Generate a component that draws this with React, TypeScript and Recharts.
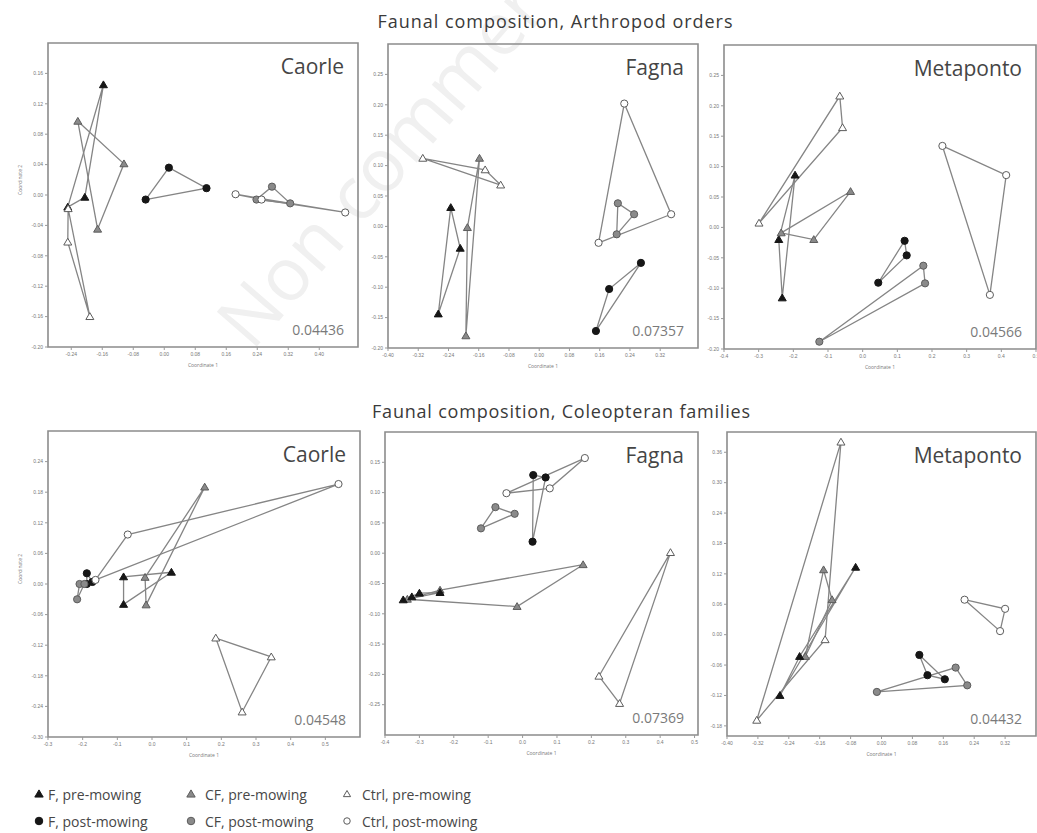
import React from "react";
import { ReferenceArea, Scatter, ScatterChart, XAxis, YAxis } from "recharts";

type Pt = { x: number; y: number };
type Kind = "fPre" | "cfPre" | "ctrlPre" | "fPost" | "cfPost" | "ctrlPost";

// ---- Arthropod orders, Caorle
const arthCaorleFPre = [{ x: -0.157, y: 0.145 }, { x: -0.205, y: -0.003 }, { x: -0.249, y: -0.016 }];
const arthCaorleCFPre = [{ x: -0.223, y: 0.097 }, { x: -0.104, y: 0.041 }, { x: -0.172, y: -0.045 }];
const arthCaorleCtrlPre = [{ x: -0.249, y: -0.062 }, { x: -0.192, y: -0.16 }, { x: -0.248, y: -0.018 }];
const arthCaorleFPost = [{ x: -0.048, y: -0.006 }, { x: 0.012, y: 0.036 }, { x: 0.109, y: 0.009 }];
const arthCaorleCFPost = [{ x: 0.278, y: 0.011 }, { x: 0.238, y: -0.006 }, { x: 0.325, y: -0.011 }];
const arthCaorleCtrlPost = [{ x: 0.184, y: 0.001 }, { x: 0.251, y: -0.006 }, { x: 0.467, y: -0.023 }];

// ---- Arthropod orders, Fagna
const arthFagnaCtrlPre = [{ x: -0.308, y: 0.112 }, { x: -0.143, y: 0.093 }, { x: -0.102, y: 0.068 }];
const arthFagnaCFPre = [{ x: -0.158, y: 0.112 }, { x: -0.19, y: -0.002 }, { x: -0.194, y: -0.18 }];
const arthFagnaFPre = [{ x: -0.234, y: 0.031 }, { x: -0.209, y: -0.036 }, { x: -0.267, y: -0.144 }];
const arthFagnaCtrlPost = [{ x: 0.225, y: 0.202 }, { x: 0.349, y: 0.02 }, { x: 0.157, y: -0.027 }];
const arthFagnaCFPost = [{ x: 0.208, y: 0.038 }, { x: 0.251, y: 0.02 }, { x: 0.205, y: -0.013 }];
const arthFagnaFPost = [{ x: 0.269, y: -0.06 }, { x: 0.185, y: -0.103 }, { x: 0.15, y: -0.172 }];

// ---- Arthropod orders, Metaponto
const arthMetaCtrlPre = [{ x: -0.066, y: 0.216 }, { x: -0.058, y: 0.164 }, { x: -0.299, y: 0.007 }];
const arthMetaFPre = [{ x: -0.195, y: 0.086 }, { x: -0.242, y: -0.02 }, { x: -0.232, y: -0.116 }];
const arthMetaCFPre = [{ x: -0.035, y: 0.059 }, { x: -0.235, y: -0.009 }, { x: -0.141, y: -0.02 }];
const arthMetaCtrlPost = [{ x: 0.23, y: 0.134 }, { x: 0.414, y: 0.086 }, { x: 0.367, y: -0.111 }];
const arthMetaFPost = [{ x: 0.121, y: -0.022 }, { x: 0.127, y: -0.046 }, { x: 0.045, y: -0.091 }];
const arthMetaCFPost = [{ x: 0.175, y: -0.063 }, { x: 0.18, y: -0.092 }, { x: -0.125, y: -0.188 }];

// ---- Coleopteran families, Caorle
const coleCaorleCtrlPost = [{ x: 0.538, y: 0.196 }, { x: -0.07, y: 0.097 }, { x: -0.163, y: 0.008 }];
const coleCaorleCFPre = [{ x: 0.152, y: 0.19 }, { x: -0.02, y: 0.013 }, { x: -0.017, y: -0.041 }];
const coleCaorleFPre = [{ x: -0.082, y: 0.014 }, { x: 0.056, y: 0.023 }, { x: -0.082, y: -0.04 }];
const coleCaorleCtrlPre = [{ x: 0.184, y: -0.106 }, { x: 0.344, y: -0.143 }, { x: 0.26, y: -0.251 }];
const coleCaorleFPost = [{ x: -0.188, y: 0.021 }, { x: -0.188, y: 0.0 }, { x: -0.172, y: 0.004 }];
const coleCaorleCFPost = [{ x: -0.209, y: 0.0 }, { x: -0.216, y: -0.03 }, { x: -0.195, y: 0.0 }];

// ---- Coleopteran families, Fagna
const coleFagnaCtrlPost = [{ x: 0.181, y: 0.157 }, { x: -0.047, y: 0.099 }, { x: 0.079, y: 0.107 }];
const coleFagnaFPost = [{ x: 0.031, y: 0.129 }, { x: 0.067, y: 0.125 }, { x: 0.029, y: 0.019 }];
const coleFagnaCFPost = [{ x: -0.079, y: 0.076 }, { x: -0.023, y: 0.065 }, { x: -0.121, y: 0.041 }];
const coleFagnaCFPre = [{ x: 0.176, y: -0.019 }, { x: -0.016, y: -0.088 }, { x: -0.335, y: -0.076 }, { x: -0.24, y: -0.061 }];
const coleFagnaFPre = [{ x: -0.347, y: -0.077 }, { x: -0.322, y: -0.072 }, { x: -0.3, y: -0.066 }, { x: -0.24, y: -0.065 }];
const coleFagnaCtrlPre = [{ x: 0.43, y: 0.001 }, { x: 0.222, y: -0.203 }, { x: 0.282, y: -0.248 }];

// ---- Coleopteran families, Metaponto
const coleMetaCtrlPre = [{ x: -0.105, y: 0.38 }, { x: -0.146, y: -0.01 }, { x: -0.323, y: -0.169 }];
const coleMetaCFPre = [{ x: -0.15, y: 0.128 }, { x: -0.128, y: 0.069 }, { x: -0.197, y: -0.043 }];
const coleMetaFPre = [{ x: -0.067, y: 0.133 }, { x: -0.212, y: -0.043 }, { x: -0.263, y: -0.12 }];
const coleMetaCtrlPost = [{ x: 0.215, y: 0.069 }, { x: 0.32, y: 0.051 }, { x: 0.307, y: 0.007 }];
const coleMetaFPost = [{ x: 0.098, y: -0.04 }, { x: 0.119, y: -0.08 }, { x: 0.164, y: -0.088 }];
const coleMetaCFPost = [{ x: 0.192, y: -0.065 }, { x: 0.222, y: -0.1 }, { x: -0.012, y: -0.113 }];

// ---- tick labels
const ticksCaorleArthX = [-0.24, -0.16, -0.08, 0, 0.08, 0.16, 0.24, 0.32, 0.4];
const ticksCaorleArthY = [-0.2, -0.16, -0.12, -0.08, -0.04, 0, 0.04, 0.08, 0.12, 0.16];
const ticksFagnaArthX = [-0.4, -0.32, -0.24, -0.16, -0.08, 0, 0.08, 0.16, 0.24, 0.32];
const ticksFagnaArthY = [-0.2, -0.15, -0.1, -0.05, 0, 0.05, 0.1, 0.15, 0.2, 0.25];
const ticksMetaArthX = [-0.4, -0.3, -0.2, -0.1, 0, 0.1, 0.2, 0.3, 0.4, 0.5];
const ticksMetaArthY = [-0.2, -0.15, -0.1, -0.05, 0, 0.05, 0.1, 0.15, 0.2, 0.25];
const ticksCaorleColeX = [-0.3, -0.2, -0.1, 0, 0.1, 0.2, 0.3, 0.4, 0.5];
const ticksCaorleColeY = [-0.3, -0.24, -0.18, -0.12, -0.06, 0, 0.06, 0.12, 0.18, 0.24];
const ticksFagnaColeX = [-0.4, -0.3, -0.2, -0.1, 0, 0.1, 0.2, 0.3, 0.4, 0.5];
const ticksFagnaColeY = [-0.25, -0.2, -0.15, -0.1, -0.05, 0, 0.05, 0.1, 0.15];
const ticksMetaColeX = [-0.4, -0.32, -0.24, -0.16, -0.08, 0, 0.08, 0.16, 0.24, 0.32];
const ticksMetaColeY = [-0.18, -0.12, -0.06, 0, 0.06, 0.12, 0.18, 0.24, 0.3, 0.36];

const legendLabels: [Kind, string][] = [
  ["fPre", "F, pre-mowing"],
  ["fPost", "F, post-mowing"],
  ["cfPre", "CF, pre-mowing"],
  ["cfPost", "CF, post-mowing"],
  ["ctrlPre", "Ctrl, pre-mowing"],
  ["ctrlPost", "Ctrl, post-mowing"],
];

const FONT = "'Open Sans', 'DejaVu Sans', sans-serif";
const LINE = "#858585";

const MARKS: Record<Kind, { tri: boolean; fill: string; stroke: string }> = {
  fPre: { tri: true, fill: "#161616", stroke: "#161616" },
  cfPre: { tri: true, fill: "#8a8a8a", stroke: "#5c5c5c" },
  ctrlPre: { tri: true, fill: "#ffffff", stroke: "#5c5c5c" },
  fPost: { tri: false, fill: "#161616", stroke: "#161616" },
  cfPost: { tri: false, fill: "#8a8a8a", stroke: "#5c5c5c" },
  ctrlPost: { tri: false, fill: "#ffffff", stroke: "#5c5c5c" },
};

function Marker({ kind, cx, cy, s = 1 }: { kind: Kind; cx: number; cy: number; s?: number }) {
  const m = MARKS[kind];
  if (m.tri) {
    const h = 6.5 * s;
    const w = 4 * s;
    return (
      <path
        d={`M${cx},${cy - h * 0.6} L${cx + w},${cy + h * 0.45} L${cx - w},${cy + h * 0.45} Z`}
        fill={m.fill}
        stroke={m.stroke}
        strokeWidth={1}
      />
    );
  }
  return <circle cx={cx} cy={cy} r={3.6 * s} fill={m.fill} stroke={m.stroke} strokeWidth={1} />;
}

function hull(pts: Pt[]): Pt[] {
  const p = [...pts].sort((a, b) => a.x - b.x || a.y - b.y);
  if (p.length < 3) return [...p, p[0]];
  const cross = (o: Pt, a: Pt, b: Pt) => (a.x - o.x) * (b.y - o.y) - (a.y - o.y) * (b.x - o.x);
  const lower: Pt[] = [];
  for (const q of p) {
    while (lower.length >= 2 && cross(lower[lower.length - 2], lower[lower.length - 1], q) <= 0) lower.pop();
    lower.push(q);
  }
  const upper: Pt[] = [];
  for (let i = p.length - 1; i >= 0; i--) {
    const q = p[i];
    while (upper.length >= 2 && cross(upper[upper.length - 2], upper[upper.length - 1], q) <= 0) upper.pop();
    upper.push(q);
  }
  lower.pop();
  upper.pop();
  const h = lower.concat(upper);
  return [...h, h[0]];
}

type Frame = { l: number; t: number; r: number; b: number };
type Group = { kind: Kind; pts: Pt[] };

const TICK = { fontSize: 5, fill: "#777", fontFamily: "'Liberation Sans', sans-serif" };

function Panel(props: {
  f: Frame;
  xDomain: [number, number];
  yDomain: [number, number];
  xTicks: number[];
  yTicks: number[];
  xDec: number;
  groups: Group[];
  yLabel?: boolean;
}) {
  const { f, xDomain, yDomain, xTicks, yTicks, xDec, groups, yLabel } = props;
  const YW = 36;
  const XH = 24;
  const MT = 3;
  const MR = 3;
  const w = f.r - f.l + YW + MR;
  const h = f.b - f.t + MT + XH;
  return (
    <div style={{ position: "absolute", left: f.l - YW, top: f.t - MT }}>
      <ScatterChart width={w} height={h} margin={{ top: MT, right: MR, left: 0, bottom: 0 }}>
        <XAxis
          type="number"
          dataKey="x"
          domain={xDomain}
          ticks={xTicks}
          interval={0}
          allowDataOverflow
          axisLine={false}
          tickLine={{ stroke: "#999" }}
          tickSize={3}
          tick={TICK}
          tickFormatter={(v: number) => v.toFixed(xDec)}
          height={XH}
          label={{ value: "Coordinate 1", position: "insideBottom", offset: 4, fontSize: 5, fill: "#777" }}
        />
        <YAxis
          type="number"
          dataKey="y"
          domain={yDomain}
          ticks={yTicks}
          interval={0}
          allowDataOverflow
          axisLine={false}
          tickLine={{ stroke: "#999" }}
          tickSize={3}
          tick={TICK}
          tickFormatter={(v: number) => v.toFixed(2)}
          width={YW}
          label={
            yLabel
              ? { value: "Coordinate 2", angle: -90, position: "insideLeft", offset: 8, fontSize: 5, fill: "#777" }
              : undefined
          }
        />
        <ReferenceArea
          x1={xDomain[0]}
          x2={xDomain[1]}
          y1={yDomain[0]}
          y2={yDomain[1]}
          fill="none"
          stroke="#8c8c8c"
          strokeWidth={1.6}
        />
        {groups.map((g, i) => (
          <Scatter
            key={"h" + i}
            data={hull(g.pts)}
            line={{ stroke: LINE, strokeWidth: 1.3 }}
            shape={() => <g />}
            isAnimationActive={false}
          />
        ))}
        {groups.map((g, i) => (
          <Scatter
            key={"m" + i}
            data={g.pts}
            shape={(p: any) => <Marker kind={g.kind} cx={p.cx} cy={p.cy} />}
            isAnimationActive={false}
          />
        ))}
      </ScatterChart>
    </div>
  );
}

const frames: Frame[] = [
  { l: 48, t: 43, r: 358, b: 347 },
  { l: 388, t: 44, r: 698, b: 348 },
  { l: 724, t: 45, r: 1036, b: 349 },
  { l: 48, t: 431, r: 360, b: 737 },
  { l: 385, t: 432, r: 698, b: 735 },
  { l: 727, t: 432, r: 1036, b: 736 },
];
const siteNames = ["Caorle", "Fagna", "Metaponto", "Caorle", "Fagna", "Metaponto"];
const stressValues = ["0.04436", "0.07357", "0.04566", "0.04548", "0.07369", "0.04432"];

export default function App() {
  return (
    <div
      style={{
        position: "absolute",
        left: 0,
        top: 0,
        width: 1037,
        height: 833,
        overflow: "hidden",
        background: "#fff",
        fontFamily: FONT,
      }}
    >
      <svg width={1037} height={833} style={{ position: "absolute", left: 0, top: 0 }}>
        <text
          x={252}
          y={352}
          transform="rotate(-49 252 352)"
          fontSize={74}
          fill="#f0f0f0"
          fontFamily={FONT}
        >
          Non commercial use only
        </text>
      </svg>

      <Panel
        f={frames[0]}
        xDomain={[-0.3, 0.5]}
        yDomain={[-0.2, 0.2]}
        xTicks={ticksCaorleArthX}
        yTicks={ticksCaorleArthY}
        xDec={2}
        yLabel
        groups={[
          { kind: "fPre", pts: arthCaorleFPre },
          { kind: "cfPre", pts: arthCaorleCFPre },
          { kind: "ctrlPre", pts: arthCaorleCtrlPre },
          { kind: "fPost", pts: arthCaorleFPost },
          { kind: "cfPost", pts: arthCaorleCFPost },
          { kind: "ctrlPost", pts: arthCaorleCtrlPost },
        ]}
      />
      <Panel
        f={frames[1]}
        xDomain={[-0.4, 0.42]}
        yDomain={[-0.2, 0.3]}
        xTicks={ticksFagnaArthX}
        yTicks={ticksFagnaArthY}
        xDec={2}
        groups={[
          { kind: "fPre", pts: arthFagnaFPre },
          { kind: "cfPre", pts: arthFagnaCFPre },
          { kind: "ctrlPre", pts: arthFagnaCtrlPre },
          { kind: "fPost", pts: arthFagnaFPost },
          { kind: "cfPost", pts: arthFagnaCFPost },
          { kind: "ctrlPost", pts: arthFagnaCtrlPost },
        ]}
      />
      <Panel
        f={frames[2]}
        xDomain={[-0.4, 0.5]}
        yDomain={[-0.2, 0.3]}
        xTicks={ticksMetaArthX}
        yTicks={ticksMetaArthY}
        xDec={1}
        groups={[
          { kind: "fPre", pts: arthMetaFPre },
          { kind: "cfPre", pts: arthMetaCFPre },
          { kind: "ctrlPre", pts: arthMetaCtrlPre },
          { kind: "fPost", pts: arthMetaFPost },
          { kind: "cfPost", pts: arthMetaCFPost },
          { kind: "ctrlPost", pts: arthMetaCtrlPost },
        ]}
      />
      <Panel
        f={frames[3]}
        xDomain={[-0.3, 0.6]}
        yDomain={[-0.3, 0.3]}
        xTicks={ticksCaorleColeX}
        yTicks={ticksCaorleColeY}
        xDec={1}
        yLabel
        groups={[
          { kind: "fPre", pts: coleCaorleFPre },
          { kind: "cfPre", pts: coleCaorleCFPre },
          { kind: "ctrlPre", pts: coleCaorleCtrlPre },
          { kind: "fPost", pts: coleCaorleFPost },
          { kind: "cfPost", pts: coleCaorleCFPost },
          { kind: "ctrlPost", pts: coleCaorleCtrlPost },
        ]}
      />
      <Panel
        f={frames[4]}
        xDomain={[-0.4, 0.51]}
        yDomain={[-0.3, 0.2]}
        xTicks={ticksFagnaColeX}
        yTicks={ticksFagnaColeY}
        xDec={1}
        groups={[
          { kind: "cfPre", pts: coleFagnaCFPre },
          { kind: "fPre", pts: coleFagnaFPre },
          { kind: "ctrlPre", pts: coleFagnaCtrlPre },
          { kind: "fPost", pts: coleFagnaFPost },
          { kind: "cfPost", pts: coleFagnaCFPost },
          { kind: "ctrlPost", pts: coleFagnaCtrlPost },
        ]}
      />
      <Panel
        f={frames[5]}
        xDomain={[-0.4, 0.4]}
        yDomain={[-0.2, 0.4]}
        xTicks={ticksMetaColeX}
        yTicks={ticksMetaColeY}
        xDec={2}
        groups={[
          { kind: "ctrlPre", pts: coleMetaCtrlPre },
          { kind: "cfPre", pts: coleMetaCFPre },
          { kind: "fPre", pts: coleMetaFPre },
          { kind: "fPost", pts: coleMetaFPost },
          { kind: "cfPost", pts: coleMetaCFPost },
          { kind: "ctrlPost", pts: coleMetaCtrlPost },
        ]}
      />

      <svg
        width={1037}
        height={833}
        style={{ position: "absolute", left: 0, top: 0, pointerEvents: "none" }}
        fontFamily={FONT}
      >
        <text x={555} y={28} textAnchor="middle" fontSize={18} fill="#3a3a3a" textLength={355}>
          Faunal composition, Arthropod orders
        </text>
        <text x={561} y={418} textAnchor="middle" fontSize={18} fill="#3a3a3a" textLength={378}>
          Faunal composition, Coleopteran families
        </text>
        {frames.map((f, i) => (
          <g key={i}>
            <text x={f.r - 14} y={f.t + 31} textAnchor="end" fontSize={21} fill="#454545">
              {siteNames[i]}
            </text>
            <text x={f.r - 14} y={f.b - 12} textAnchor="end" fontSize={14} fill="#7a7a7a">
              {stressValues[i]}
            </text>
          </g>
        ))}
        {legendLabels.map(([kind, label], i) => {
          const col = Math.floor(i / 2);
          const row = i % 2;
          const mx = [39, 191, 347][col];
          const tx = [48, 205, 362][col];
          const cy = 794 + row * 27;
          return (
            <g key={kind}>
              <Marker kind={kind} cx={mx} cy={cy} s={kind.startsWith("ctrl") ? 0.9 : 1.05} />
              <text x={tx} y={cy + 6} fontSize={14} fill="#474747">
                {label}
              </text>
            </g>
          );
        })}
      </svg>
    </div>
  );
}
